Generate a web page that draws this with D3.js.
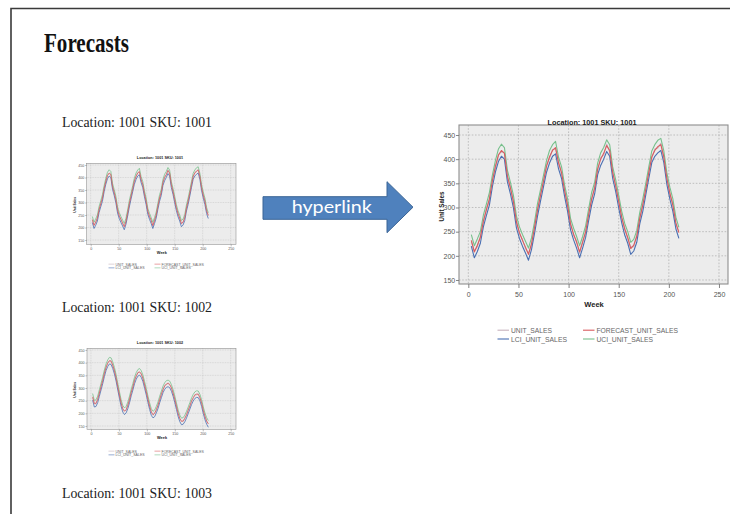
<!DOCTYPE html>
<html>
<head>
<meta charset="utf-8">
<script src="https://cdn.jsdelivr.net/npm/d3@7"></script>
<style>
  html, body { margin: 0; padding: 0; background: #fff; }
  svg { display: block; }
</style>
</head>
<body>
<svg id="slide" width="730" height="514"></svg>
<script>
// ---- data ----
const weeks = [3,6,9,12,15,18,21,24,27,30,33,36,39,42,45,48,51,54,57,60,
  63,66,69,72,75,78,81,84,87,90,93,96,99,102,105,108,111,114,117,120,
  123,126,129,132,135,138,141,144,147,150,153,156,159,162,165,168,171,174,177,180,
  183,186,189,192,195,198,201,204,207,210];

// Location 1001, SKU 1001
const unitSales1001 = [229,210,219,241,268,297,315,358,381,410,
  415,414,362,343,309,273,245,234,215,205,
  222,261,292,328,352,388,402,420,421,395,
  369,338,302,268,242,231,205,231,247,288,
  315,343,377,403,409,431,415,375,342,315,
  277,258,235,218,219,243,275,308,335,375,
  402,421,423,433,402,363,327,308,265,251];
const forecast1001 = [232,208,222,238,272,295,318,355,385,408,
  418,412,365,340,312,270,248,232,218,203,
  225,258,295,325,355,385,405,418,424,392,
  372,335,305,265,245,228,208,228,250,285,
  318,340,380,400,412,428,418,372,345,312,
  280,255,238,215,222,240,278,305,338,372,
  405,418,426,430,405,360,330,305,268,248];
const lci1001 = [220,196,209,226,260,283,305,343,373,395,
  406,400,353,328,299,258,236,220,206,191,
  213,246,282,313,343,373,392,406,411,380,
  360,323,292,253,233,216,196,216,238,273,
  305,328,368,387,400,416,406,360,333,299,
  268,243,226,203,210,228,266,292,326,360,
  393,406,413,418,393,348,318,292,256,236];
const uci1001 = [244,221,235,250,284,307,331,367,397,421,
  431,424,377,352,325,282,260,244,230,216,
  237,270,308,337,367,397,418,430,437,404,
  384,347,318,277,257,240,221,240,262,297,
  331,352,392,413,424,440,430,384,357,325,
  292,267,250,228,234,252,290,318,350,384,
  417,430,439,443,417,372,342,318,280,259];

// Location 1001, SKU 1002
const unitSales1002 = [262,241,236,258,277,308,327,361,379,401,
  405,409,387,371,337,308,269,243,215,211,
  212,235,252,285,302,333,345,363,361,358,
  335,315,282,258,225,208,192,203,212,235,
  252,278,292,311,313,321,311,303,277,258,
  225,203,177,171,167,183,192,215,227,251,
  259,275,273,278,259,243,209,191,167,161];
const forecast1002 = [265,238,240,255,280,305,330,358,382,398,
  408,406,390,368,340,305,272,240,218,208,
  215,232,255,282,305,330,348,360,364,355,
  338,312,285,255,228,205,195,200,215,232,
  255,275,295,308,316,318,314,300,280,255,
  228,200,180,168,170,180,195,212,230,248,
  262,272,276,275,262,240,212,188,170,158];
const lci1002 = [252,225,227,242,267,292,317,345,369,385,
  395,393,377,355,327,292,259,227,205,195,
  202,219,242,269,292,317,335,347,351,342,
  325,299,272,242,215,192,182,187,202,219,
  242,262,282,295,303,305,301,287,267,242,
  215,187,167,155,157,167,182,199,217,235,
  249,259,263,262,249,227,199,175,157,145];
const uci1002 = [278,251,253,268,293,318,343,371,395,411,
  421,419,403,381,353,318,285,253,231,221,
  228,245,268,295,318,343,361,373,377,368,
  351,325,298,268,241,218,208,213,228,245,
  268,288,308,321,329,331,327,313,293,268,
  241,213,193,181,183,193,208,225,243,261,
  275,285,289,288,275,253,225,201,183,171];

const seriesNames = ["UNIT_SALES", "FORECAST_UNIT_SALES", "LCI_UNIT_SALES", "UCI_UNIT_SALES"];
const seriesColors = ["#c7b2bd", "#d95b5e", "#4a6fb2", "#78c08c"];
const xTicks = [0, 50, 100, 150, 200, 250];
const yTicks = [150, 200, 250, 300, 350, 400, 450];
const headings = ["Location: 1001 SKU: 1001", "Location: 1001 SKU: 1002", "Location: 1001 SKU: 1003"];

// ---- page ----
const svg = d3.select("#slide");
const sans = "'Liberation Sans', Arial, sans-serif";
const serif = "'Liberation Serif', 'Times New Roman', serif";

svg.append("path")
  .attr("d", "M11,514V8.5H730")
  .attr("fill", "none")
  .attr("stroke", "#3a3a3a")
  .attr("stroke-width", 1.6);

svg.append("text")
  .attr("x", 44).attr("y", 52)
  .attr("font-family", serif).attr("font-weight", "bold").attr("font-size", 27)
  .attr("textLength", 85).attr("lengthAdjust", "spacingAndGlyphs")
  .attr("fill", "#111")
  .text("Forecasts");

const headingY = [127, 312, 498];
svg.selectAll("text.heading").data(headings).join("text")
  .attr("class", "heading")
  .attr("x", 62).attr("y", (d, i) => headingY[i])
  .attr("font-family", serif).attr("font-size", 15)
  .attr("textLength", 150).attr("lengthAdjust", "spacingAndGlyphs")
  .attr("fill", "#222")
  .text(d => d);

// arrow pointing at the enlarged chart
svg.append("path")
  .attr("d", "M263,196.7H387V181.7L413,207.2L387,232.7V219.3H263Z")
  .attr("fill", "#4f81bd")
  .attr("stroke", "#3b6596")
  .attr("stroke-width", 1);
svg.append("text")
  .attr("x", 331.7).attr("y", 213)
  .attr("text-anchor", "middle")
  .attr("font-family", "Lato, 'Open Sans', sans-serif").attr("font-size", 17)
  .attr("textLength", 80).attr("lengthAdjust", "spacingAndGlyphs")
  .attr("fill", "#fff")
  .text("hyperlink");

// ---- chart drawer ----
function drawChart(cfg) {
  const k = cfg.k;
  const g = svg.append("g");
  const x = d3.scaleLinear().domain(cfg.xDomain).range([cfg.x0, cfg.x1]);
  const y = d3.scaleLinear().domain(cfg.yDomain).range([cfg.y1, cfg.y0]);

  g.append("rect")
    .attr("x", cfg.x0).attr("y", cfg.y0)
    .attr("width", cfg.x1 - cfg.x0).attr("height", cfg.y1 - cfg.y0)
    .attr("fill", "#ececec");

  // dotted grid
  const grid = g.append("g")
    .attr("stroke", "#b9b9b9")
    .attr("stroke-width", 0.9 * k)
    .attr("stroke-dasharray", `${1.6 * k},${1.6 * k}`);
  grid.selectAll("line.vx").data(xTicks).join("line")
    .attr("x1", d => x(d)).attr("x2", d => x(d))
    .attr("y1", cfg.y0).attr("y2", cfg.y1);
  grid.selectAll("line.hy").data(yTicks).join("line")
    .attr("y1", d => y(d)).attr("y2", d => y(d))
    .attr("x1", cfg.x0).attr("x2", cfg.x1);

  // series
  const series = [
    { name: seriesNames[0], values: cfg.data[0], color: seriesColors[0] },
    { name: seriesNames[2], values: cfg.data[2], color: seriesColors[2] },
    { name: seriesNames[3], values: cfg.data[3], color: seriesColors[3] },
    { name: seriesNames[1], values: cfg.data[1], color: seriesColors[1] }
  ];
  const line = d3.line()
    .x((d, i) => x(weeks[i]))
    .y(d => y(d));
  g.selectAll("path.series").data(series).join("path")
    .attr("class", "series")
    .attr("fill", "none")
    .attr("stroke", d => d.color)
    .attr("stroke-width", cfg.lineWidth)
    .attr("stroke-linejoin", "round")
    .attr("d", d => line(d.values));

  // frame
  g.append("rect")
    .attr("x", cfg.x0).attr("y", cfg.y0)
    .attr("width", cfg.x1 - cfg.x0).attr("height", cfg.y1 - cfg.y0)
    .attr("fill", "none")
    .attr("stroke", "#8e8e8e")
    .attr("stroke-width", 1.1 * k);

  // axes
  const yAxis = d3.axisLeft(y).tickValues(yTicks).tickSize(3 * k).tickPadding(cfg.yPad);
  const xAxis = d3.axisBottom(x).tickValues(xTicks).tickSize(4 * k).tickPadding(cfg.xPad);
  const ya = g.append("g").attr("transform", `translate(${cfg.x0},0)`).call(yAxis);
  const xa = g.append("g").attr("transform", `translate(0,${cfg.y1})`).call(xAxis);
  [ya, xa].forEach(a => {
    a.select(".domain").remove();
    a.selectAll(".tick line").attr("stroke", "#777").attr("stroke-width", 0.9 * k);
    a.selectAll(".tick text")
      .attr("fill", "#555")
      .attr("font-family", sans)
      .attr("font-size", 7 * k);
  });

  // titles
  g.append("text")
    .attr("x", cfg.titleX).attr("y", cfg.titleY)
    .attr("text-anchor", "middle")
    .attr("font-family", sans).attr("font-weight", "bold").attr("font-size", 7.5 * k)
    .attr("textLength", 89 * k).attr("lengthAdjust", "spacingAndGlyphs")
    .attr("fill", "#222")
    .text(cfg.title);
  g.append("text")
    .attr("x", (cfg.x0 + cfg.x1) / 2 + 0.5).attr("y", cfg.weekY)
    .attr("text-anchor", "middle")
    .attr("font-family", sans).attr("font-weight", "bold").attr("font-size", 7.5 * k)
    .attr("fill", "#222")
    .text("Week");
  g.append("text")
    .attr("transform", `translate(${cfg.yLabelX},${(cfg.y0 + cfg.y1) / 2 + 2 * k}) rotate(-90)`)
    .attr("text-anchor", "middle")
    .attr("font-family", sans).attr("font-weight", "bold").attr("font-size", 7 * k)
    .attr("textLength", 30 * k).attr("lengthAdjust", "spacingAndGlyphs")
    .attr("fill", "#222")
    .text("Unit Sales");

  // legend (two rows, two columns)
  const legendLen = [41, 81.5, 56, 56.6];
  const legendItems = seriesNames.map((name, i) => ({
    name, color: seriesColors[i], len: legendLen[i],
    row: Math.floor(i / 2), col: i % 2
  }));
  const lg = g.append("g");
  lg.selectAll("line").data(legendItems).join("line")
    .attr("x1", d => cfg.legendCols[d.col])
    .attr("x2", d => cfg.legendCols[d.col] + 11.5 * k)
    .attr("y1", d => cfg.legendRows[d.row] - 2.6 * k)
    .attr("y2", d => cfg.legendRows[d.row] - 2.6 * k)
    .attr("stroke", d => d.color)
    .attr("stroke-width", 1.1 * k);
  lg.selectAll("text").data(legendItems).join("text")
    .attr("x", d => cfg.legendCols[d.col] + 13.5 * k)
    .attr("y", d => cfg.legendRows[d.row])
    .attr("font-family", sans).attr("font-size", 7.5 * k)
    .attr("textLength", d => d.len * k).attr("lengthAdjust", "spacingAndGlyphs")
    .attr("fill", "#666")
    .text(d => d.name);
}

// thumbnail, SKU 1001
drawChart({
  k: 0.52, data: [unitSales1001, forecast1001, lci1001, uci1001],
  x0: 86.7, x1: 236, y0: 163.3, y1: 244.3,
  xDomain: [-7.1, 259.5], yDomain: [132.8, 456.8],
  yPad: 0.8, xPad: 1.2, lineWidth: 0.8,
  title: "Location: 1001 SKU: 1001", titleX: 160, titleY: 158.5,
  weekY: 253.5, yLabelX: 76,
  legendRows: [265.5, 269.2], legendCols: [108.5, 154.5]
});

// thumbnail, SKU 1002
drawChart({
  k: 0.52, data: [unitSales1002, forecast1002, lci1002, uci1002],
  x0: 87, x1: 236, y0: 348.3, y1: 429.3,
  xDomain: [-7.1, 259.5], yDomain: [137, 456.7],
  yPad: 0.8, xPad: 1.2, lineWidth: 0.8,
  title: "Location: 1001 SKU: 1002", titleX: 160, titleY: 343.5,
  weekY: 438.5, yLabelX: 76,
  legendRows: [452.5, 456.2], legendCols: [108.5, 154.5]
});

// enlarged chart, SKU 1001
drawChart({
  k: 1, data: [unitSales1001, forecast1001, lci1001, uci1001],
  x0: 459, x1: 728, y0: 125, y1: 284,
  xDomain: [-9.3, 259], yDomain: [141.7, 470.7],
  yPad: 0.8, xPad: 4.3, lineWidth: 1.1,
  title: "Location: 1001 SKU: 1001", titleX: 592, titleY: 124.5,
  weekY: 306.5, yLabelX: 443.5,
  legendRows: [332.8, 341.6], legendCols: [497.5, 583]
});
</script>
</body>
</html>
